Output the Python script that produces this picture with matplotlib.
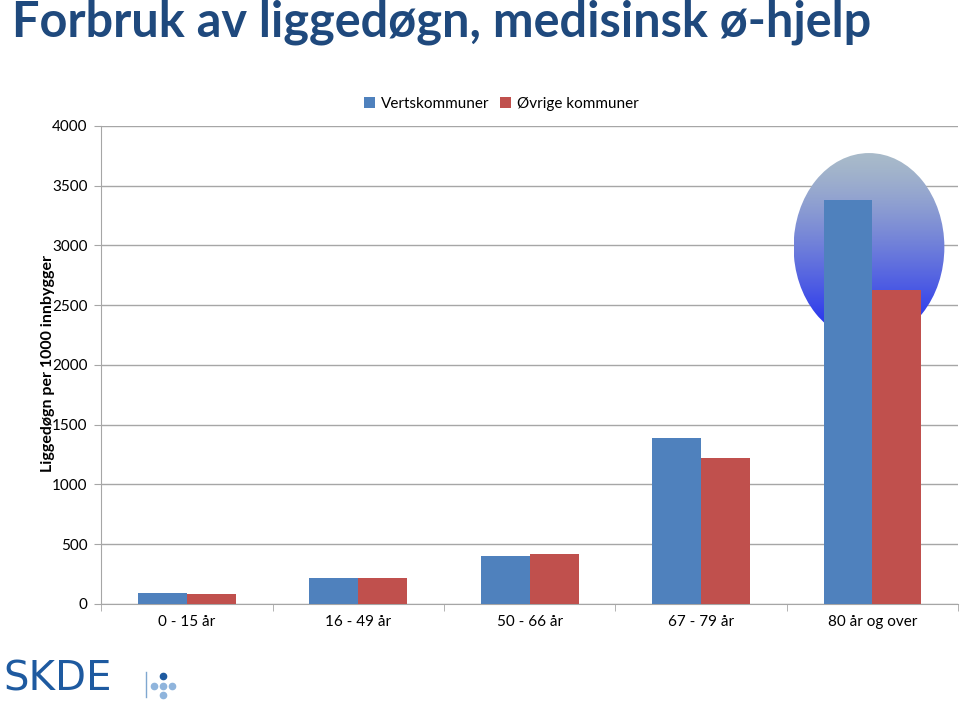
"""Grouped bar chart: hospital bed-days per 1000 inhabitants, emergency medicine."""

import matplotlib

matplotlib.use("Agg")

import matplotlib.pyplot as plt
import numpy as np
from matplotlib.patches import Ellipse

CATEGORIES = ["0 - 15 år", "16 - 49 år", "50 - 66 år", "67 - 79 år", "80 år og over"]
VERTSKOMMUNER = [95, 220, 402, 1389, 3381]
OVRIGE = [85, 218, 418, 1222, 2628]
SERIES_LABELS = ["Vertskommuner", "Øvrige kommuner"]
Y_TICKS = [0, 500, 1000, 1500, 2000, 2500, 3000, 3500, 4000]

BLUE = "#4f81bd"
RED = "#c0504d"
GRID = "#a6a6a6"
TITLE_BLUE = "#1f497d"

plt.rcParams["font.family"] = ["Lato", "DejaVu Sans"]

fig = plt.figure(figsize=(9.6, 7.05), dpi=100)
ax = fig.add_axes([0.1055, 0.1433, 0.8925, 0.678])

x = np.arange(len(CATEGORIES))
width = 0.285
ax.bar(x - width / 2, VERTSKOMMUNER, width, color=BLUE, label=SERIES_LABELS[0], zorder=3)
ax.bar(x + width / 2, OVRIGE, width, color=RED, label=SERIES_LABELS[1], zorder=3)

# highlight ellipse with vertical gradient behind the last group
ell = Ellipse((3.98, 2987), 0.88, 1573, facecolor="none", edgecolor="none", zorder=2)
ax.add_patch(ell)
grad = np.linspace(0, 1, 256).reshape(-1, 1)
top = np.array([0.66, 0.73, 0.79])
bottom = np.array([0.10, 0.15, 0.95])
img = top + (bottom - top) * grad[:, :, None] ** 1.3
img = img.reshape(256, 1, 3)
im = ax.imshow(img, extent=(3.54, 4.42, 2987 - 786, 2987 + 786), aspect="auto",
               origin="upper", zorder=2)
im.set_clip_path(ell)

ax.set_xlim(-0.5, len(CATEGORIES) - 0.5)
ax.set_ylim(0, 4000)
ax.set_yticks(Y_TICKS)
ax.set_yticklabels([str(v) for v in Y_TICKS], fontsize=11)
ax.yaxis.grid(True, color=GRID, linewidth=1, zorder=0)
ax.set_axisbelow(True)

ax.set_xticks(x)
ax.set_xticklabels(CATEGORIES, fontsize=11)
ax.set_xticks(np.arange(len(CATEGORIES) + 1) - 0.5, minor=True)
ax.tick_params(axis="x", which="major", length=0, pad=8)
ax.tick_params(axis="x", which="minor", length=5, color=GRID)
ax.tick_params(axis="y", length=5, color=GRID, pad=5)

for side in ("top", "right"):
    ax.spines[side].set_visible(False)
for side in ("left", "bottom"):
    ax.spines[side].set_color(GRID)

fig.text(48 / 960, 1 - 364 / 705, "Liggedøgn per 1000 innbygger", fontsize=11.5,
         fontweight="bold", rotation=90, ha="center", va="center")

ax.legend(loc="upper center", bbox_to_anchor=(0.467, 1.09), ncol=2, frameon=False,
          fontsize=11, handlelength=0.7, handleheight=0.7, handletextpad=0.4,
          columnspacing=0.7)

fig.text(0.012, 0.968, "Forbruk av liggedøgn, medisinsk ø-hjelp", fontsize=35,
         fontweight="bold", color=TITLE_BLUE, va="center", ha="left")

# SKDE logo
fig.text(0.004, 0.02, "SKDE", fontsize=29, color="#1e5aa0", ha="left", va="baseline",
         family=["DejaVu Sans"])
fig.add_artist(plt.Line2D([0.152, 0.152], [0.012, 0.047], color="#7fa7d0", linewidth=1))
dots_x = [0.160, 0.170, 0.179, 0.170, 0.170]
dots_y = [0.0275, 0.0275, 0.0275, 0.0417, 0.0148]
dot_cols = ["#8fb4dc", "#8fb4dc", "#8fb4dc", "#1e5aa0", "#8fb4dc"]
for dx, dy, dc in zip(dots_x, dots_y, dot_cols):
    fig.add_artist(plt.Line2D([dx], [dy], marker="o", markersize=4.5, color=dc,
                              linestyle="none"))

fig.savefig("out.png", dpi=100)
